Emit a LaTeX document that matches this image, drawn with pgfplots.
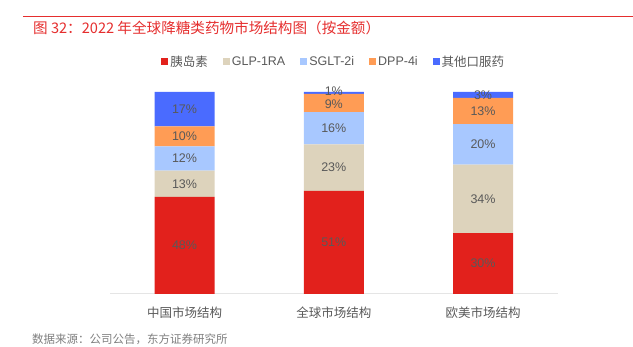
\documentclass[border=0pt]{standalone}
\usepackage{fontspec}
\setmainfont{Liberation Sans}
\newfontfamily\cjk{Noto Sans CJK SC}
\usepackage{pgfplots}
\pgfplotsset{compat=1.18}
\definecolor{cRed}{HTML}{E2211C}
\definecolor{cBeige}{HTML}{DDD3BC}
\definecolor{cLBlue}{HTML}{A8C8FF}
\definecolor{cOrange}{HTML}{FF9C55}
\definecolor{cBlue}{HTML}{4A6BFF}
\definecolor{titleRed}{HTML}{E52E2E}
\definecolor{txt}{HTML}{595959}
\definecolor{srcgray}{HTML}{7F7F7F}
\begin{document}
\begin{tikzpicture}
\path (0pt,0pt) rectangle (633pt,347pt);
\draw[titleRed, line width=0.8pt] (23pt,331pt) -- (633pt,331pt);
\node[anchor=west, text=titleRed, inner sep=0pt] at (33pt,319pt) {\fontsize{14.6}{16}\selectfont\cjk 图 32：2022 年全球降糖类药物市场结构图（按金额）};
\node[anchor=west, text=srcgray, inner sep=0pt] at (32pt,8pt) {\fontsize{11.5}{13}\selectfont\cjk 数据来源：公司公告，东方证券研究所};
\begin{axis}[
  at={(110pt,53pt)}, anchor=south west,
  scale only axis, width=448pt, height=202pt,
  ybar stacked, bar width=60pt,
  xmin=-0.5, xmax=2.5, ymin=0, ymax=100,
  axis y line=none,
  axis x line=bottom,
  x axis line style={-, draw=black!10, line width=1pt},
  xtick={0,1,2},
  xticklabels={{\cjk 中国市场结构},{\cjk 全球市场结构},{\cjk 欧美市场结构}},
  major tick length=0pt,
  xticklabel style={font=\fontsize{12.5}{14}\selectfont, text=txt, anchor=base, yshift=-24pt},
  clip=false,
  legend columns=5,
  legend style={at={(0.5,1.149)}, anchor=center, draw=none, fill=none,
    font=\fontsize{12.5}{14}\selectfont, text=txt,
    /tikz/every even column/.append style={column sep=13pt}},
  legend image code/.code={\fill[#1] (0pt,-3.5pt) rectangle (7pt,3.5pt);},
]
\addplot[fill=cRed, draw=none] coordinates {(0,48) (1,51) (2,30)};
\addplot[fill=cBeige, draw=none] coordinates {(0,13) (1,23) (2,34)};
\addplot[fill=cLBlue, draw=none] coordinates {(0,12) (1,16) (2,20)};
\addplot[fill=cOrange, draw=none] coordinates {(0,10) (1,9) (2,13)};
\addplot[fill=cBlue, draw=none] coordinates {(0,17) (1,1) (2,3)};
\legend{{\cjk 胰岛素},GLP-1RA,SGLT-2i,DPP-4i,{\cjk 其他口服药}}
\end{axis}
\begin{axis}[
  at={(110pt,53pt)}, anchor=south west,
  scale only axis, width=448pt, height=202pt,
  xmin=-0.5, xmax=2.5, ymin=0, ymax=100,
  hide axis, clip=false,
  point meta=explicit symbolic,
  nodes near coords={\pgfplotspointmeta\%},
  nodes near coords align={center},
  every node near coord/.append style={font=\fontsize{12.5}{14}\selectfont, text=txt, anchor=center, inner sep=0pt},
]
\addplot[draw=none, mark=none] coordinates {
  (0,24) [48] (0,54.5) [13] (0,67) [12] (0,78) [10] (0,91.5) [17]
  (1,25.5) [51] (1,62.5) [23] (1,82) [16] (1,93.8) [9] (1,100.6) [1]
  (2,15) [30] (2,47) [34] (2,74) [20] (2,90.5) [13] (2,98.5) [3]
};
\end{axis}
\end{tikzpicture}
\end{document}
